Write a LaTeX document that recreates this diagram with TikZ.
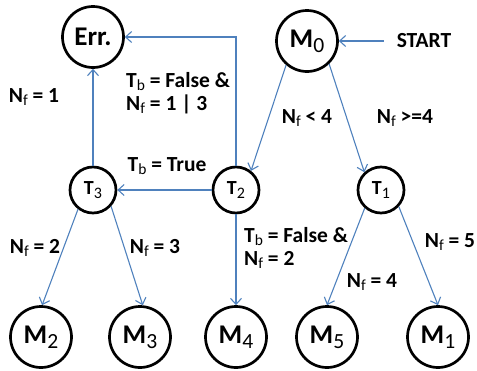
\documentclass[tikz,border=0pt]{standalone}
\usepackage{fontspec}
\setmainfont{Carlito}
\usetikzlibrary{arrows.meta}
\definecolor{arrowblue}{RGB}{79,129,189}
% lowered, smaller subscript in the current font
\newcommand\lsub[1]{\raisebox{-0.35ex}{\scalebox{0.72}{\mdseries #1}}}
\newcommand\nsub[1]{\raisebox{-0.4ex}{\scalebox{0.8}{\mdseries #1}}}
\tikzset{
  state/.style={circle, draw=black, line width=2.7pt, minimum size=61pt, inner sep=0pt,
                font=\fontsize{27}{30}\selectfont\bfseries},
  test/.style={state, minimum size=46pt, font=\fontsize{20}{22}\selectfont\bfseries},
  flow/.style={draw=arrowblue, line width=1.1pt, -{Straight Barb[length=6pt,width=11pt]}},
  lbl/.style={font=\fontsize{21.5}{23}\selectfont\bfseries, inner sep=0pt, align=left},
}
\begin{document}
\begin{tikzpicture}[x=1pt,y=-1pt]
\useasboundingbox (0,0) rectangle (477,370);

% states
\node[state] (err) at (93,37) {Err.};
\node[state] (m0)  at (307,41) {M\nsub{0}};
\node[test]  (t3)  at (93,190) {T\nsub{3}};
\node[test]  (t2)  at (236,190) {T\nsub{2}};
\node[test]  (t1)  at (381,190) {T\nsub{1}};
\node[state] (m2)  at (41,337) {M\nsub{2}};
\node[state] (m3)  at (140,337) {M\nsub{3}};
\node[state] (m4)  at (236,337) {M\nsub{4}};
\node[state] (m5)  at (327,337) {M\nsub{5}};
\node[state] (m1)  at (438,337) {M\nsub{1}};
\node[lbl]   (start) at (424,41) {START};

% transitions
\draw[flow, shorten <=13pt] (start.west) -- (m0.east);
\draw[flow] (m0.229) -- (t2.52);
\draw[flow] (m0.314) -- (t1.133);
\draw[flow] (t2) -- (t3);
\draw[flow] (t3) -- (err);
\draw[flow] (t2.north) |- (err.east);
\draw[flow] (t2) -- (m4);
\draw[flow] (t3.232) -- (m2.88);
\draw[flow] (t3.318) -- (m3.85);
\draw[flow] (t1.228) -- (m5.90);
\draw[flow] (t1.317) -- (m1.90);

% conditions
\node[lbl] (lerr) at (34,97) {N\lsub{f} = 1};
\node[lbl, anchor=west] (lfalse13) at (126,93) {T\lsub{b} = False \&\\N\lsub{f} = 1 | 3};
\node[lbl] (ltrue) at (167,166) {T\lsub{b} = True};
\node[lbl] (llt4) at (307,118) {N\lsub{f} < 4};
\node[lbl] (lge4) at (405,118) {N\lsub{f} >=4};
\node[lbl] (l2) at (35,248) {N\lsub{f} = 2};
\node[lbl] (l3) at (155,248) {N\lsub{f} = 3};
\node[lbl, anchor=west] (lfalse2) at (244,248) {T\lsub{b} = False \&\\N\lsub{f} = 2};
\node[lbl] (l4) at (372,282) {N\lsub{f} = 4};
\node[lbl] (l5) at (450,242) {N\lsub{f} = 5};
\end{tikzpicture}
\end{document}
